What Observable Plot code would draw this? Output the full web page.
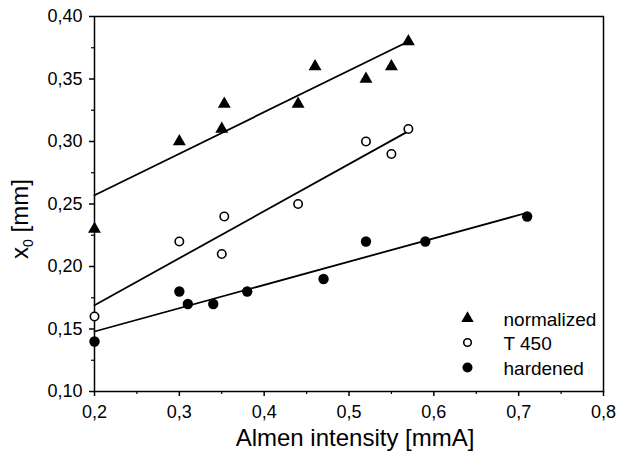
<!DOCTYPE html>
<html><head><meta charset="utf-8">
<script src="https://cdn.jsdelivr.net/npm/d3@7"></script>
<script src="https://cdn.jsdelivr.net/npm/@observablehq/plot@0.6"></script>
<style>
body{margin:0;background:#fff;}
svg{font-family:"Liberation Sans",Arial,sans-serif;}
</style>
</head><body><div id="chart"></div>
<script>
// Data
const normX = [0.20, 0.30, 0.35, 0.353, 0.44, 0.46, 0.52, 0.55, 0.57];
const normY = [0.23, 0.30, 0.31, 0.33, 0.33, 0.36, 0.35, 0.36, 0.38];
const t450X = [0.20, 0.30, 0.35, 0.353, 0.44, 0.52, 0.55, 0.57];
const t450Y = [0.16, 0.22, 0.21, 0.24, 0.25, 0.30, 0.29, 0.31];
const hardX = [0.20, 0.30, 0.31, 0.34, 0.38, 0.47, 0.52, 0.59, 0.71];
const hardY = [0.14, 0.18, 0.17, 0.17, 0.18, 0.19, 0.22, 0.22, 0.24];
// Fitted lines (end points)
const normFitX = [0.20, 0.57], normFitY = [0.257, 0.38];
const t450FitX = [0.20, 0.568], t450FitY = [0.169, 0.3075];
const hardFitX = [0.20, 0.71], hardFitY = [0.148, 0.243];
// Ticks
const xTicks = [0.2, 0.3, 0.4, 0.5, 0.6, 0.7, 0.8];
const xMinor = [0.25, 0.35, 0.45, 0.55, 0.65, 0.75];
const yTicks = [0.10, 0.15, 0.20, 0.25, 0.30, 0.35, 0.40];
const yMinor = [0.125, 0.175, 0.225, 0.275, 0.325, 0.375];
// Legend
const legendLabels = ["normalized", "T 450", "hardened"];
const legendSymbols = ["triangle", "circle", "circle"];
const legendFills = ["black", "white", "black"];
const legendR = [4.6, 3.8, 5];
const legendDy = [-73, -49, -24];
const xLabel = "Almen intensity [mmA]";

const pts = (xs, ys) => xs.map((x, i) => ({x, y: ys[i]}));

const legendMarks = legendLabels.flatMap((lab, i) => [
  Plot.dot([lab], {frameAnchor: "bottom-right", dx: -136, dy: legendDy[i], symbol: legendSymbols[i], r: legendR[i], fill: legendFills[i], stroke: "black", strokeWidth: legendFills[i] === "white" ? 1.6 : 0}),
  Plot.text([lab], {frameAnchor: "bottom-right", dx: -100, dy: legendDy[i] + 1, text: d => d, textAnchor: "start", lineAnchor: "middle", fontSize: 19, fill: "black"})
]);

const plot = Plot.plot({
  width: 618, height: 463,
  marginLeft: 94, marginRight: 15, marginTop: 16, marginBottom: 72,
  x: {domain: [0.2, 0.8]},
  y: {domain: [0.10, 0.40]},
  style: {background: "white", color: "black"},
  marks: [
    Plot.frame({stroke: "black", strokeWidth: 1.5}),
    Plot.axisX({ticks: xTicks, tickSize: 5, tickPadding: 9, fontSize: 18, strokeWidth: 1.5, tickFormat: d => d.toFixed(1).replace(".", ","), label: null}),
    Plot.axisX({ticks: xMinor, tickSize: 3, text: null, strokeWidth: 1.2, label: null}),
    Plot.axisY({ticks: yTicks, tickSize: 5, tickPadding: 7, fontSize: 18, strokeWidth: 1.5, tickFormat: d => d.toFixed(2).replace(".", ","), label: null}),
    Plot.axisY({ticks: yMinor, tickSize: 3, text: null, strokeWidth: 1.2, label: null}),
    Plot.line(pts(normFitX, normFitY), {x: "x", y: "y", stroke: "black", strokeWidth: 1.8}),
    Plot.line(pts(t450FitX, t450FitY), {x: "x", y: "y", stroke: "black", strokeWidth: 1.8}),
    Plot.line(pts(hardFitX, hardFitY), {x: "x", y: "y", stroke: "black", strokeWidth: 1.8}),
    Plot.dot(pts(normX, normY), {x: "x", y: "y", symbol: "triangle", r: 4.8, fill: "black"}),
    Plot.dot(pts(t450X, t450Y), {x: "x", y: "y", symbol: "circle", r: 4.2, fill: "white", stroke: "black", strokeWidth: 1.6}),
    Plot.dot(pts(hardX, hardY), {x: "x", y: "y", symbol: "circle", r: 5.2, fill: "black"}),
    Plot.text([xLabel], {frameAnchor: "bottom", dx: 6, dy: 47, text: d => d, lineAnchor: "middle", fontSize: 24, fill: "black"}),
    ...legendMarks
  ]
});

const svg = d3.select(plot);
const yl = svg.append("text")
  .attr("transform", "translate(28,219) rotate(-90)")
  .attr("text-anchor", "middle")
  .attr("font-size", 24)
  .attr("fill", "black");
yl.append("tspan").text("x");
yl.append("tspan").attr("font-size", 14).attr("dy", 5).text("0");
yl.append("tspan").attr("dy", -5).text(" [mm]");

document.getElementById("chart").appendChild(plot);
</script>
</body></html>
